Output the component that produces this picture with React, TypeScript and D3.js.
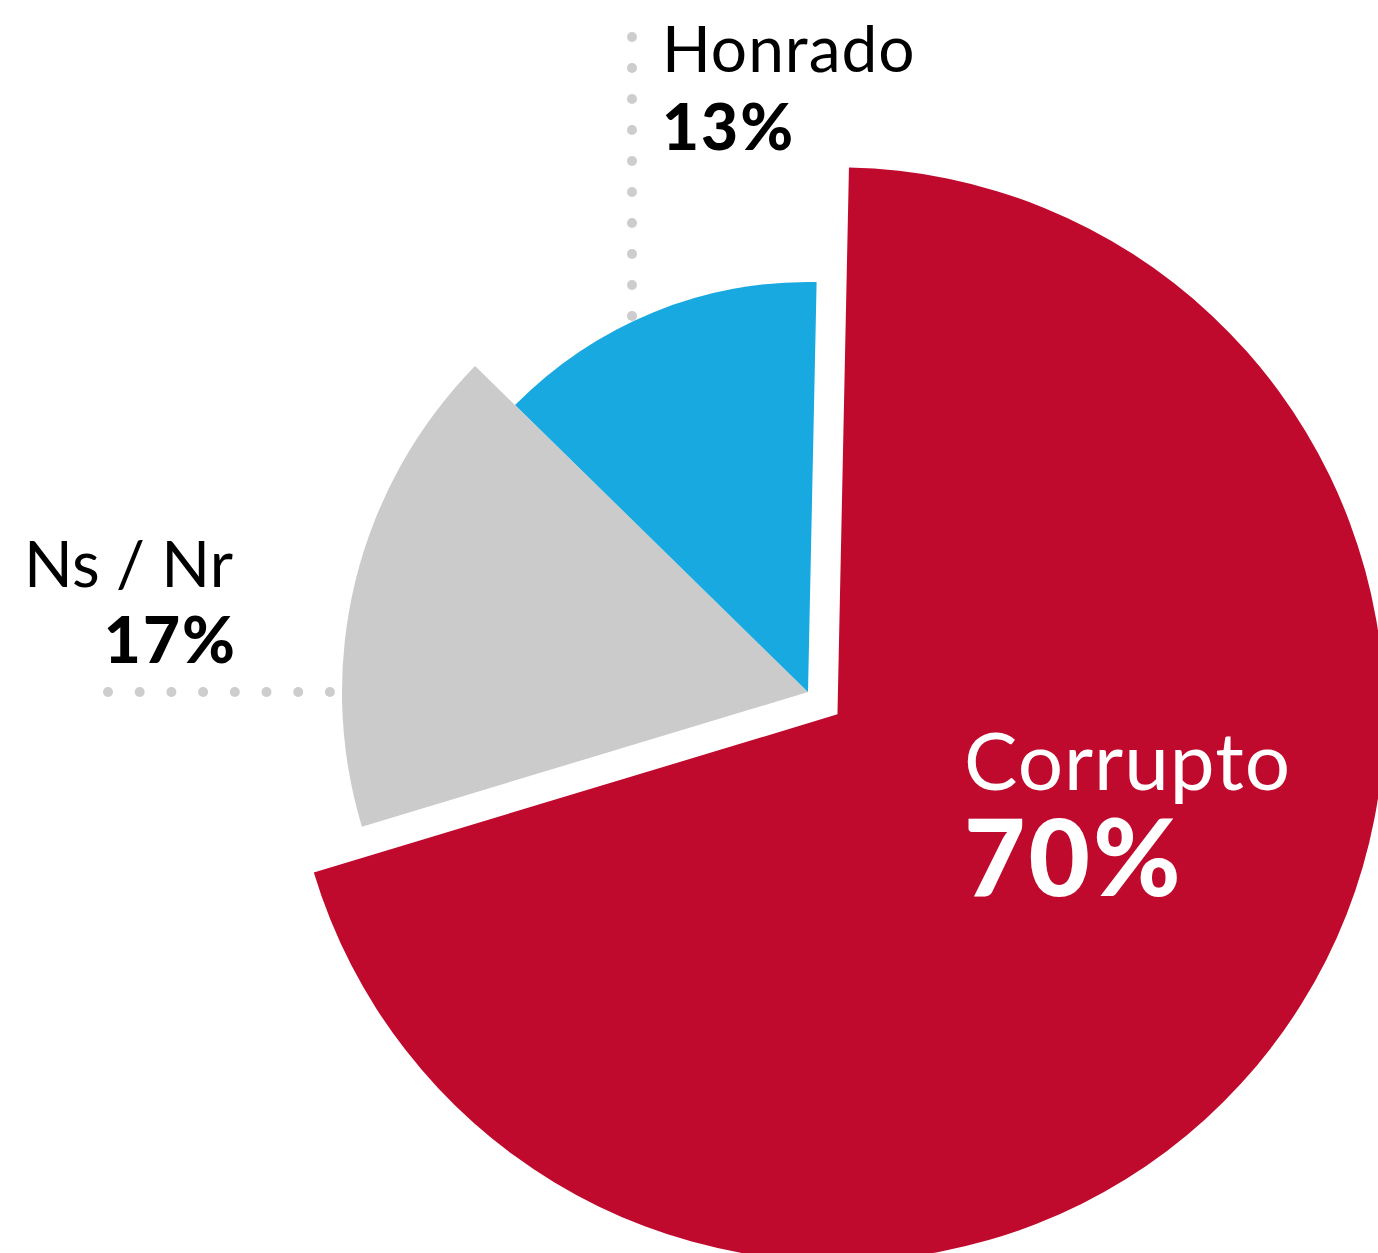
import React from "react";
import { pie, arc, range } from "d3";

// opinion shares
const categories = ["Corrupto", "Ns / Nr", "Honrado"];
const values = [70, 17, 13];
const colors = ["#C00A2D", "#CBCBCB", "#17A9DF"];

function App() {
  const width = 1378;
  const height = 1253;
  const cx = 808;
  const cy = 692;
  const radii = [547, 466, 410];
  const explode = 37;
  const rotate = 0.021;

  const slices = pie<number>()
    .sort(null)
    .startAngle(rotate)
    .endAngle(rotate + Math.PI * 2)(values);

  const offsetOf = (i: number) => {
    if (i !== 0) return [0, 0];
    const mid = (slices[i].startAngle + slices[i].endAngle) / 2;
    return [Math.sin(mid) * explode, -Math.cos(mid) * explode];
  };

  const font = "Lato, 'Open Sans', sans-serif";

  return (
    <svg width={width} height={height} style={{ position: "absolute", left: 0, top: 0 }}>
      {/* dotted leader lines */}
      {range(10).map((i) => (
        <circle key={"v" + i} cx={632} cy={37 + i * 31} r={5} fill="#CDCDCD" />
      ))}
      {range(8).map((i) => (
        <circle key={"h" + i} cx={108 + i * 31.7} cy={692} r={5} fill="#CDCDCD" />
      ))}

      {slices.map((s, i) => {
        const [dx, dy] = offsetOf(i);
        const path = arc<any>().innerRadius(0).outerRadius(radii[i])(s);
        return (
          <path
            key={categories[i]}
            d={path || ""}
            fill={colors[i]}
            transform={`translate(${cx + dx},${cy + dy})`}
          />
        );
      })}

      {/* labels */}
      <g fontFamily={font}>
        <text x={662} y={72} fontSize={64} letterSpacing={1} fill="#000">
          {categories[2]}
        </text>
        <text x={662} y={150} fontSize={64} fontWeight={900} letterSpacing={2} fill="#000">
          {values[2]}%
        </text>
        <text x={233} y={587} fontSize={64} textAnchor="end" fill="#000">
          {categories[1]}
        </text>
        <text x={237} y={663} fontSize={64} fontWeight={900} letterSpacing={2} textAnchor="end" fill="#000">
          {values[1]}%
        </text>
        <text x={964} y={790} fontSize={80} letterSpacing={1} fill="#fff">
          {categories[0]}
        </text>
        <text x={964} y={896} fontSize={106} fontWeight={900} letterSpacing={3} fill="#fff">
          {values[0]}%
        </text>
      </g>
    </svg>
  );
}

export default App;
